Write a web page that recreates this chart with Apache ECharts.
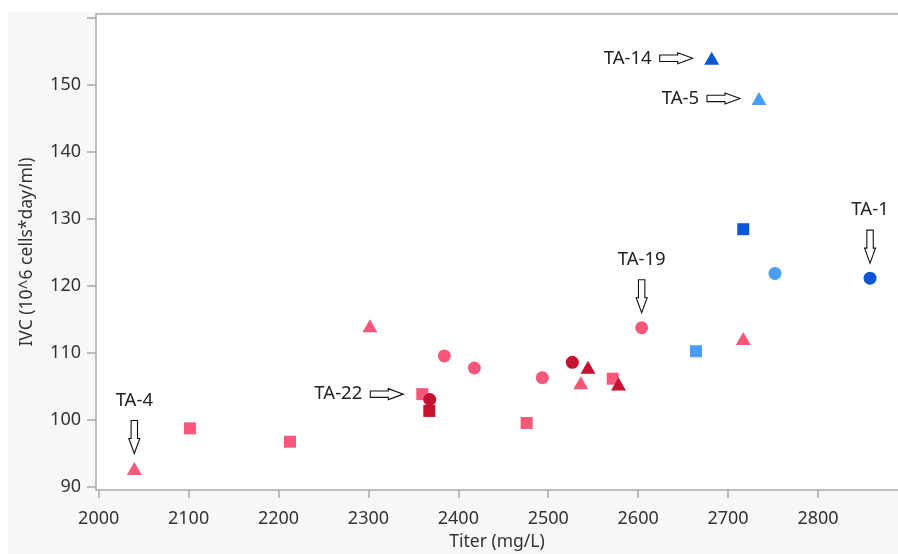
<!DOCTYPE html>
<html>
<head>
<meta charset="utf-8">
<script src="https://cdn.jsdelivr.net/npm/echarts@6/dist/echarts.min.js"></script>
<style>
  html, body { margin: 0; padding: 0; background: #ffffff; }
  #chart { position: absolute; left: 8px; top: 12px; width: 890px; height: 542px; }
</style>
</head>
<body>
<div id="chart"></div>
<script>
// ---- Data (Titer mg/L, IVC 10^6 cells*day/ml) ----
const pinkSquares    = [[2101.5, 98.7], [2212.8, 96.7], [2359.9, 103.8], [2476, 99.5], [2571.7, 106.1]];
const pinkCircles    = [[2384.4, 109.5], [2417.8, 107.7], [2493.4, 106.25], [2603.9, 113.7]];
const pinkTriangles  = [[2039.6, 92.7], [2301.7, 114.0], [2536.2, 105.5], [2716.9, 112.1]];
const redSquares     = [[2367.7, 101.3]];
const redCircles     = [[2368.2, 103.0], [2526.8, 108.55]];
const redTriangles   = [[2544.2, 107.8], [2578.1, 105.3]];
const lightBlueSquares   = [[2664.3, 110.2]];
const lightBlueCircles   = [[2752.2, 121.8]];
const lightBlueTriangles = [[2734.4, 147.9]];
const blueSquares    = [[2716.9, 128.4]];
const blueCircles    = [[2857.9, 121.1]];
const blueTriangles  = [[2681.8, 153.9]];

// Annotations
const annoLabels = ['TA-4', 'TA-22', 'TA-19', 'TA-1', 'TA-14', 'TA-5'];
const annoX      = [2039.6, 2359.9, 2603.9, 2857.9, 2681.8, 2734.4];
const annoY      = [92.7, 103.8, 113.7, 121.1, 153.9, 147.9];
const annoDir    = ['down', 'right', 'down', 'down', 'right', 'right'];

// Axis ticks
const xTicks = [2000, 2100, 2200, 2300, 2400, 2500, 2600, 2700, 2800];
const yTicks = [90, 100, 110, 120, 130, 140, 150, 160];
const yLabels = [90, 100, 110, 120, 130, 140, 150];

// ---- Styles ----
const PINK = '#F7587A', RED = '#C41230', LBLUE = '#4B9CF7', BLUE = '#0B56D4';
const AXIS = '#ababab';
const FONT = 'Noto Sans';

function sc(name, data, color, symbol, size) {
  return {
    name: name, type: 'scatter', data: data, symbol: symbol, symbolSize: size,
    itemStyle: { color: color, opacity: 1 }, z: 3
  };
}

const chart = echarts.init(document.getElementById('chart'));
chart.setOption({
  backgroundColor: '#f7f7f7',
  animation: false,
  grid: { left: 88, right: 0, top: 2, bottom: 64, show: true, backgroundColor: '#ffffff', borderWidth: 0,
          outerBoundsMode: 'none', containLabel: false },
  xAxis: [{
    type: 'value', min: 1997, max: 2889,
    name: 'Titer (mg/L)', nameLocation: 'middle', nameGap: 42,
    nameTextStyle: { fontFamily: FONT, fontSize: 17.5, color: '#333' },
    axisLine: { show: true, onZero: false, lineStyle: { color: AXIS, width: 1.5 } },
    axisTick: { show: true, length: 8, customValues: xTicks, lineStyle: { color: AXIS, width: 1.5 } },
    axisLabel: { customValues: xTicks, margin: 20, fontFamily: FONT, fontSize: 18, color: '#333',
                 formatter: function (v) { return String(v); } },
    splitLine: { show: false }
  }, {
    type: 'value', min: 1997, max: 2889, position: 'top',
    axisLine: { show: true, onZero: false, lineStyle: { color: AXIS, width: 1.5 } },
    axisTick: { show: false }, axisLabel: { show: false }, splitLine: { show: false }
  }],
  yAxis: {
    type: 'value', min: 89.5, max: 160.5,
    name: 'IVC (10^6 cells*day/ml)', nameLocation: 'middle', nameGap: 60,
    nameTextStyle: { fontFamily: FONT, fontSize: 17.5, color: '#333' },
    axisLine: { show: true, onZero: false, lineStyle: { color: AXIS, width: 1.5 } },
    axisTick: { show: true, length: 9, customValues: yTicks, lineStyle: { color: AXIS, width: 1.5 } },
    axisLabel: { customValues: yLabels, margin: 15, fontFamily: FONT, fontSize: 18, color: '#333' },
    splitLine: { show: false }
  },
  series: [
    sc('pinkSquares', pinkSquares, PINK, 'rect', 12),
    sc('pinkCircles', pinkCircles, PINK, 'circle', 13),
    sc('pinkTriangles', pinkTriangles, PINK, 'triangle', [15, 13]),
    sc('lightBlueSquares', lightBlueSquares, LBLUE, 'rect', 12),
    sc('lightBlueCircles', lightBlueCircles, LBLUE, 'circle', 13),
    sc('lightBlueTriangles', lightBlueTriangles, LBLUE, 'triangle', [15, 13]),
    sc('redSquares', redSquares, RED, 'rect', 12),
    sc('redCircles', redCircles, RED, 'circle', 13),
    sc('redTriangles', redTriangles, RED, 'triangle', [15, 13]),
    sc('blueSquares', blueSquares, BLUE, 'rect', 12),
    sc('blueCircles', blueCircles, BLUE, 'circle', 13),
    sc('blueTriangles', blueTriangles, BLUE, 'triangle', [15, 13]),
    {
      type: 'custom', name: 'annotations', clip: false, z: 5, silent: true,
      data: annoX.map(function (x, i) { return [x, annoY[i], i]; }),
      encode: { x: 0, y: 1 },
      renderItem: function (params, api) {
        const i = api.value(2);
        const p = api.coord([api.value(0), api.value(1)]);
        const L = 33, sw = 3.2, hw = 5.5, hl = 15;
        let pts, tx, ty, align, valign;
        if (annoDir[i] === 'down') {
          const x = p[0];
          const tip = p[1] - 15, tail = tip - L;
          pts = [[x - sw, tail], [x + sw, tail], [x + sw, tip - hl], [x + hw, tip - hl], [x, tip],
                 [x - hw, tip - hl], [x - sw, tip - hl]];
          tx = x; ty = tail - 20; align = 'center'; valign = 'middle';
        } else {
          const y = p[1];
          const tip = p[0] - 19, tail = tip - L;
          pts = [[tail, y - sw], [tail, y + sw], [tip - hl, y + sw], [tip - hl, y + hw], [tip, y],
                 [tip - hl, y - hw], [tip - hl, y - sw]];
          tx = tail - 8; ty = y; align = 'right'; valign = 'middle';
        }
        return {
          type: 'group',
          children: [
            { type: 'polygon', shape: { points: pts }, style: { fill: '#ffffff', stroke: '#111111', lineWidth: 1.1 } },
            { type: 'text', style: { text: annoLabels[i], x: tx, y: ty, align: align, verticalAlign: valign,
                fontFamily: FONT, fontSize: 18.5, fill: '#222222' } }
          ]
        };
      }
    }
  ]
});
</script>
</body>
</html>
